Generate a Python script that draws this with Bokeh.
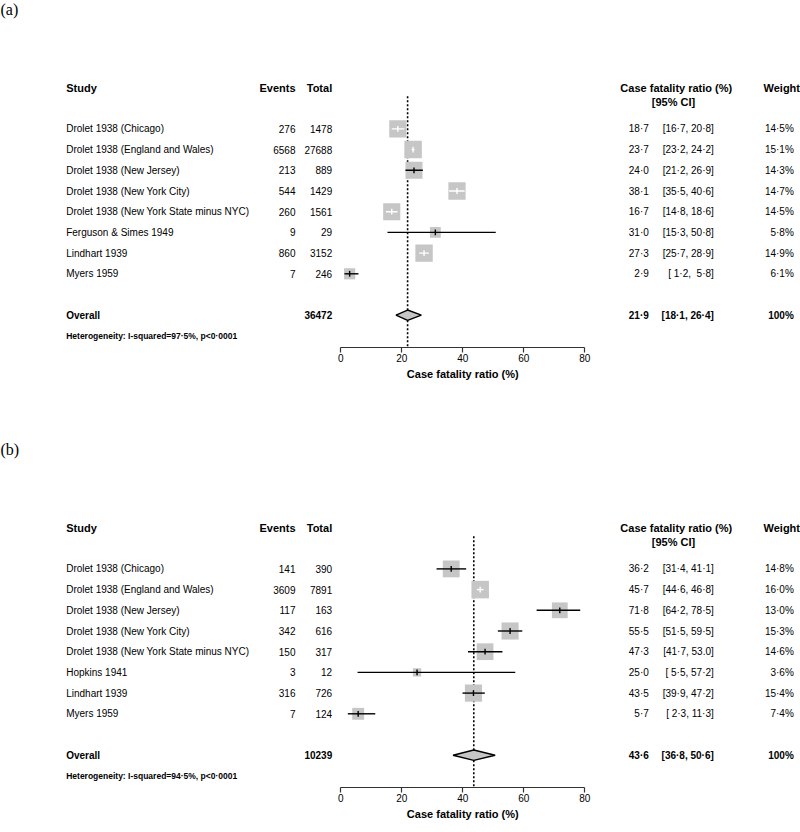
import math
from bokeh.plotting import figure
from bokeh.models import ColumnDataSource, LabelSet, Label, Range1d, FixedTicker
from bokeh.layouts import column
from bokeh.core.properties import value
from bokeh.embed import file_html
from bokeh.resources import INLINE

# ---------------- data ----------------
studies_a = ["Drolet 1938 (Chicago)", "Drolet 1938 (England and Wales)", "Drolet 1938 (New Jersey)",
             "Drolet 1938 (New York City)", "Drolet 1938 (New York State minus NYC)",
             "Ferguson & Simes 1949", "Lindhart 1939", "Myers 1959"]
events_a = [276, 6568, 213, 544, 260, 9, 860, 7]
totals_a = [1478, 27688, 889, 1429, 1561, 29, 3152, 246]
cfr_a = [18.7, 23.7, 24.0, 38.1, 16.7, 31.0, 27.3, 2.9]
lo_a = [16.7, 23.2, 21.2, 35.5, 14.8, 15.3, 25.7, 1.2]
hi_a = [20.8, 24.2, 26.9, 40.6, 18.6, 50.8, 28.9, 5.8]
weight_a = [14.5, 15.1, 14.3, 14.7, 14.5, 5.8, 14.9, 6.1]
ci_text_a = ["[16·7, 20·8]", "[23·2, 24·2]", "[21·2, 26·9]", "[35·5, 40·6]", "[14·8, 18·6]",
             "[15·3, 50·8]", "[25·7, 28·9]", "[ 1·2, \u00a05·8]"]
overall_a = [21.9, 18.1, 26.4]
overall_ci_text_a = "[18·1, 26·4]"
het_a = "Heterogeneity: I-squared=97·5%, p<0·0001"

studies_b = ["Drolet 1938 (Chicago)", "Drolet 1938 (England and Wales)", "Drolet 1938 (New Jersey)",
             "Drolet 1938 (New York City)", "Drolet 1938 (New York State minus NYC)",
             "Hopkins 1941", "Lindhart 1939", "Myers 1959"]
events_b = [141, 3609, 117, 342, 150, 3, 316, 7]
totals_b = [390, 7891, 163, 616, 317, 12, 726, 124]
cfr_b = [36.2, 45.7, 71.8, 55.5, 47.3, 25.0, 43.5, 5.7]
lo_b = [31.4, 44.6, 64.2, 51.5, 41.7, 5.5, 39.9, 2.3]
hi_b = [41.1, 46.8, 78.5, 59.5, 53.0, 57.2, 47.2, 11.3]
weight_b = [14.8, 16.0, 13.0, 15.3, 14.6, 3.6, 15.4, 7.4]
ci_text_b = ["[31·4, 41·1]", "[44·6, 46·8]", "[64·2, 78·5]", "[51·5, 59·5]", "[41·7, 53.0]",
             "[ 5·5, 57·2]", "[39·9, 47·2]", "[ 2·3, 11·3]"]
overall_b = [43.6, 36.8, 50.6]
overall_ci_text_b = "[36·8, 50·6]"
het_b = "Heterogeneity: I-squared=94·5%, p<0·0001"

headers = ["Study", "Events", "Total", "Case fatality ratio (%)", "Weight"]
subheader = "[95% CI]"
axis_title = "Case fatality ratio (%)"
ticks = [0, 20, 40, 60, 80]

# ---------------- layout constants ----------------
W = 800
AXIS_PX = 346.7    # canvas y of the axis line
X0_PX = 340.3      # canvas x of value 0
PX_PER = 3.05      # pixels per % unit
ROW0 = 128.4       # canvas y of first row
ROW_H = 20.7
SANS = value("Liberation Sans")
SERIF = value("Liberation Serif")

COL_STUDY = 65.7
COL_EVENTS = 295
COL_TOTAL = 331.7
COL_CFR = 648.3
COL_CI = 713.3
COL_W = 793.3
COL_HDR_CFR = 675.8
COL_HDR_W = 799.5


def fmt(v):
    return f"{v:.1f}".replace(".", "·")


def add_text(p, xs, ys, texts, align, size="10px", style="normal", font=SANS, baseline="middle"):
    src = ColumnDataSource(dict(x=xs, y=ys, t=texts))
    p.add_layout(LabelSet(x="x", y="y", text="t", source=src, x_units="screen", y_units="data",
                          text_align=align, text_baseline=baseline, text_font=font,
                          text_font_size=size, text_font_style=style, text_color="#000000"))


def build_panel(tag, studies, events, totals, cfr, lo, hi, weight, ci_text,
                overall, overall_ci_text, het, height):
    n = len(studies)
    y_top = -ROW0 / ROW_H
    y_bot = (height - ROW0) / ROW_H
    y_axis = (AXIS_PX - ROW0) / ROW_H
    p = figure(width=W, height=height, output_backend="svg", toolbar_location=None,
               x_range=Range1d(-X0_PX / PX_PER, (W - X0_PX) / PX_PER),
               y_range=Range1d(y_bot, y_top),
               x_axis_location="below", y_axis_location=None,
               min_border=0)
    p.outline_line_color = None
    p.xgrid.visible = False
    p.ygrid.visible = False

    ax = p.xaxis[0]
    ax.fixed_location = y_axis
    ax.bounds = (ticks[0], ticks[-1])
    ax.ticker = FixedTicker(ticks=ticks)
    ax.minor_tick_line_color = None
    ax.major_tick_in = 0
    ax.major_tick_out = 5
    ax.major_label_standoff = 2
    ax.axis_line_color = "#333333"
    ax.axis_line_width = 1.2
    ax.major_tick_line_color = "#333333"
    ax.major_tick_line_width = 1.2
    ax.major_label_text_font = "Liberation Sans"
    ax.major_label_text_font_size = "10px"
    ax.major_label_text_color = "#000000"

    # axis title centred under the 0-80 axis span
    p.add_layout(Label(x=(ticks[0] + ticks[-1]) / 2, y=y_axis + 26.5 / ROW_H, text=axis_title,
                       x_units="data", y_units="data", text_align="center", text_baseline="middle",
                       text_font="Liberation Sans", text_font_size="11px", text_font_style="bold",
                       text_color="#000000"))

    rows = list(range(n))
    y_over = n + 1
    y_het = n + 2

    # dotted reference line at overall estimate
    p.segment(x0=[overall[0]], y0=[-1.58], x1=[overall[0]], y1=[y_axis],
              line_color="black", line_width=1.6, line_dash="2 2")

    # squares sized by weight
    wmax = max(weight)
    sides = [17.5 * math.sqrt(w / wmax) for w in weight]
    p.rect(x=cfr, y=rows, width=sides, height=sides, width_units="screen", height_units="screen",
           fill_color="#c6c6c6", line_color=None)

    # CI lines, white when inside the square
    colors = []
    for c, l, h, s in zip(cfr, lo, hi, sides):
        half = s / 2 / PX_PER
        colors.append("white" if (l >= c - half and h <= c + half) else "black")
    p.segment(x0=lo, y0=rows, x1=hi, y1=rows, line_color=colors, line_width=1.4)
    p.segment(x0=cfr, y0=[r - 0.14 for r in rows], x1=cfr, y1=[r + 0.14 for r in rows],
              line_color=colors, line_width=1.4)

    # overall diamond
    est, olo, ohi = overall
    p.patch(x=[olo, est, ohi, est], y=[y_over, y_over - 0.25, y_over, y_over + 0.25],
            fill_color="#c6c6c6", line_color="black", line_width=1.4)

    # panel tag
    add_text(p, [0], [y_top], [tag], "left", size="16px", font=SERIF, baseline="top")

    # headers
    add_text(p, [COL_STUDY], [-2], [headers[0]], "left", size="11px", style="bold")
    add_text(p, [COL_EVENTS, COL_TOTAL], [-2, -2], headers[1:3], "right", size="11px", style="bold")
    add_text(p, [COL_HDR_CFR, COL_HDR_CFR - 2.8], [-2, -1.3], [headers[3], subheader], "center",
             size="11px", style="bold")
    add_text(p, [COL_HDR_W], [-2], [headers[4]], "right", size="11px", style="bold")

    # study rows
    add_text(p, [COL_STUDY] * n, rows, studies, "left")
    add_text(p, [COL_EVENTS] * n, rows, [str(e) for e in events], "right")
    add_text(p, [COL_TOTAL] * n, rows, [str(t) for t in totals], "right")
    add_text(p, [COL_CFR] * n, rows, [fmt(v) for v in cfr], "right")
    add_text(p, [COL_CI] * n, rows, ci_text, "right")
    add_text(p, [COL_W] * n, rows, [fmt(w) + "%" for w in weight], "right")

    # overall row
    add_text(p, [COL_STUDY], [y_over], ["Overall"], "left", style="bold")
    add_text(p, [COL_TOTAL, COL_CFR, COL_CI, COL_W], [y_over] * 4,
             [str(sum(totals)), fmt(est), overall_ci_text, "100%"], "right", style="bold")

    # heterogeneity
    add_text(p, [COL_STUDY], [y_het], [het], "left", size="8.5px", style="bold")
    return p


pa = build_panel("(a)", studies_a, events_a, totals_a, cfr_a, lo_a, hi_a, weight_a, ci_text_a,
                 overall_a, overall_ci_text_a, het_a, 440)
pb = build_panel("(b)", studies_b, events_b, totals_b, cfr_b, lo_b, hi_b, weight_b, ci_text_b,
                 overall_b, overall_ci_text_b, het_b, 392)

layout = column(pa, pb, spacing=0)
open("out.html", "w").write(file_html(layout, INLINE))
